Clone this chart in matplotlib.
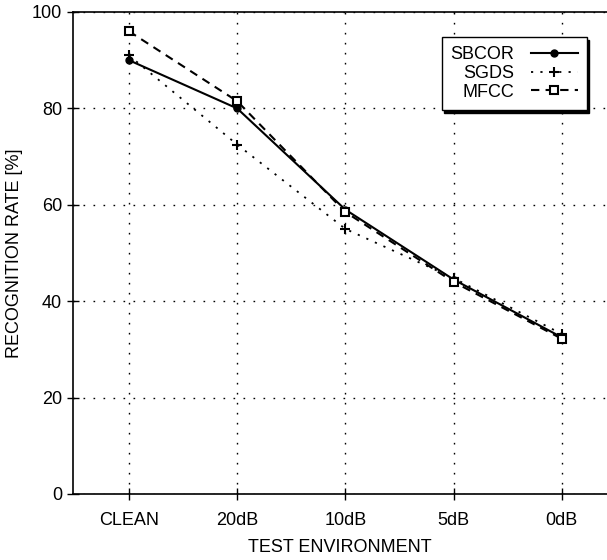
import matplotlib
matplotlib.use("Agg")
import matplotlib.pyplot as plt

plt.rcParams['font.family'] = ['Liberation Sans', 'DejaVu Sans']

categories = ["CLEAN", "20dB", "10dB", "5dB", "0dB"]
sbcor = [90.0, 80.0, 59.0, 44.5, 32.5]
sgds = [91.0, 72.5, 55.0, 44.8, 33.2]
mfcc = [96.0, 81.5, 58.5, 44.0, 32.2]
yticks = [0, 20, 40, 60, 80, 100]

fig = plt.figure(figsize=(6.07, 5.6), dpi=100)
ax = fig.add_axes([73/607, 1-494/560, 1-73/607, (494-12)/560])
x = list(range(len(categories)))

ax.plot(x, sbcor, '-', color='black', lw=1.5, marker='o', ms=5, label='SBCOR')
ax.plot(x, sgds, color='black', lw=1.3, ls=(0, (1.2, 4)), marker='+', ms=7, mew=1.5, label='SGDS')
ax.plot(x, mfcc, color='black', lw=1.5, ls=(0, (4, 3)), marker='s', ms=6, mfc='white', mew=1.5, label='MFCC')

ax.set_xlim(-0.517, 4.418)
ax.set_ylim(0, 100)
ax.set_xticks(x)
ax.set_xticklabels(categories, fontsize=13)
ax.set_yticks(yticks)
ax.set_yticklabels([str(v) for v in yticks], fontsize=13)
ax.tick_params(direction='inout', length=8, width=1, pad=4)
ax.tick_params(axis='x', pad=9)
ax.grid(True, color='black', ls=(0, (1.2, 6)), lw=1.0)
ax.spines['right'].set_visible(False)
for s in ['left', 'bottom', 'top']:
    ax.spines[s].set_linewidth(1.2)

ax.set_xlabel("TEST ENVIRONMENT", fontsize=13, labelpad=7)
ax.set_ylabel("RECOGNITION RATE [%]", fontsize=13, labelpad=6)

leg = ax.legend(loc='upper right', bbox_to_anchor=(0.962, 0.948), markerfirst=False,
                fontsize=13, frameon=True, fancybox=False,
                shadow={'color': 'black', 'alpha': 1.0},
                handlelength=2.6, borderpad=0.5, labelspacing=0.1, handletextpad=0.9,
                borderaxespad=0)
leg.get_frame().set_edgecolor('black')
leg.get_frame().set_linewidth(1.0)
leg.get_frame().set_alpha(1.0)
for t in leg.get_texts():
    t.set_ha('center')

fig.savefig("out.png", dpi=100)
